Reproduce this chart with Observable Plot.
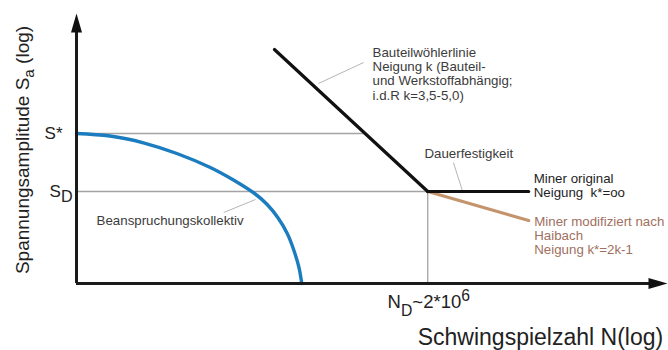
<!DOCTYPE html>
<html>
<head>
<meta charset="utf-8">
<script src="https://cdn.jsdelivr.net/npm/d3@7"></script>
<script src="https://cdn.jsdelivr.net/npm/@observablehq/plot@0.6"></script>
<style>
  html, body { margin: 0; padding: 0; background: #fff; }
</style>
</head>
<body>
<div id="chart"></div>
<script>
// ---- data (x = log N, y = log S_a, schematic units) ----
const xMax = 10.6;          // end of N axis (arrow tip)
const yMax = 2.7;           // end of S axis (arrow tip)
const Sstar = 1.5;          // S*
const SD = 0.92;            // S_D (Dauerfestigkeit)
const ND = 6.3;             // log10(2*10^6)

// Beanspruchungskollektiv (blue)
const kollektivN = [0, 0.6, 1.2, 1.8, 2.39, 2.8, 3.17, 3.42, 3.61, 3.78, 3.90, 3.99, 4.04];
const kollektivS = [1.50, 1.475, 1.407, 1.30, 1.163, 1.04, 0.91, 0.79, 0.66, 0.50, 0.33, 0.16, 0];

// Bauteilwöhlerlinie (black, slope k)
const woehlerN = [3.55, ND];
const woehlerS = [2.34, SD];

// Miner original (k* = oo)
const minerN = [ND, 8.11];
const minerS = [SD, SD];

// Miner modifiziert nach Haibach (k* = 2k-1)
const haibachN = [ND, 8.11];
const haibachS = [SD, 0.63];

// labels
const yTitle = "Spannungsamplitude S_{a} (log)";
const xTitle = "Schwingspielzahl N(log)";
const yTickLabels = ["S*", "S_{D}"];
const xTickLabel = "N_{D}~2*10^{6}";
const woehlerLabel = ["Bauteilwöhlerlinie", "Neigung k (Bauteil-", "und Werkstoffabhängig;", "i.d.R k=3,5-5,0)"];
const dauerLabel = "Dauerfestigkeit";
const minerLabel = ["Miner original", "Neigung \u00a0k*=oo"];
const haibachLabel = ["Miner modifiziert nach", "Haibach", "Neigung k*=2k-1"];
const kollektivLabel = "Beanspruchungskollektiv";

// leader lines (start/end in data units)
const leaders = [
  {n1: 4.34, s1: 2.00, n2: 5.15, s2: 2.21},
  {n1: 6.76, s1: 1.21, n2: 6.92, s2: 0.93},
  {n1: 2.64, s1: 0.71, n2: 3.21, s2: 0.84}
];

// ---- build tables ----
const zip = (ns, ss) => ns.map((n, i) => ({n, s: ss[i]}));
const kollektiv = zip(kollektivN, kollektivS);
const woehler = zip(woehlerN, woehlerS);
const miner = zip(minerN, minerS);
const haibach = zip(haibachN, haibachS);
// S* line ends on the Wöhler line
const slope = (woehlerS[1] - woehlerS[0]) / (woehlerN[1] - woehlerN[0]);
const sstarEnd = woehlerN[0] + (Sstar - woehlerS[0]) / slope;

const arrowHead = {
  draw(ctx) { ctx.moveTo(0, 0); ctx.lineTo(5.5, 19); ctx.lineTo(-5.5, 19); ctx.closePath(); }
};

const font = "Arial, 'Liberation Sans', Helvetica, sans-serif";
const gray = "#a3a3a3";
const txt = "#3b3b3b";
const brownText = "#a07060";

const svg = Plot.plot({
  width: 668,
  height: 350,
  margin: 0,
  x: {domain: [0, xMax], range: [76, 667], axis: null},
  y: {domain: [0, yMax], range: [283, 13], axis: null},
  style: {fontFamily: font, background: "#fff", overflow: "visible"},
  marks: [
    // thin reference lines
    Plot.ruleY([Sstar], {x1: 0, x2: sstarEnd, stroke: gray, strokeWidth: 1.3}),
    Plot.ruleY([SD], {x1: 0, x2: ND, stroke: gray, strokeWidth: 1.3}),
    Plot.ruleX([ND], {y1: 0, y2: SD, stroke: gray, strokeWidth: 1.3}),
    // leader lines
    Plot.link(leaders, {x1: "n1", y1: "s1", x2: "n2", y2: "s2", stroke: "#b5b5b5", strokeWidth: 1}),
    // curves
    Plot.line(kollektiv, {x: "n", y: "s", stroke: "#1b7dbf", strokeWidth: 3.4, curve: "natural"}),
    Plot.line(haibach, {x: "n", y: "s", stroke: "#c4946c", strokeWidth: 3.2}),
    Plot.line(woehler, {x: "n", y: "s", stroke: "#111", strokeWidth: 3.2}),
    Plot.line(miner, {x: "n", y: "s", stroke: "#111", strokeWidth: 3.2}),
    // axes
    Plot.ruleY([0], {x1: 0, x2: xMax - 0.2, stroke: "#1a1a1a", strokeWidth: 3}),
    Plot.ruleX([0], {y1: 0, y2: yMax - 0.12, stroke: "#1a1a1a", strokeWidth: 3}),
    Plot.dot([{n: 0, s: yMax}], {x: "n", y: "s", symbol: arrowHead, r: 5, fill: "#111", stroke: null}),
    Plot.dot([{n: xMax, s: 0}], {x: "n", y: "s", symbol: arrowHead, r: 5, fill: "#111", stroke: null, rotate: 90}),
    // axis tick labels
    Plot.text([yTickLabels[0]], {x: -0.25, y: Sstar, text: d => d, textAnchor: "end", lineAnchor: "middle", fontSize: 17, fill: "#222"}),
    Plot.text([yTickLabels[1]], {x: -0.07, y: SD, text: d => d, textAnchor: "end", lineAnchor: "middle", fontSize: 17, fill: "#222", className: "rich-sd"}),
    Plot.text([xTickLabel], {x: 5.58, y: -0.24, text: d => d, textAnchor: "start", lineAnchor: "bottom", fontSize: 18.5, fill: "#222", className: "rich-nd"}),
    // axis titles
    Plot.text([yTitle], {x: -0.97, y: 1.335, text: d => d, rotate: -90, textAnchor: "middle", lineAnchor: "middle", fontSize: 19, fill: "#222", className: "rich-ya"}),
    Plot.text([xTitle], {x: 6.12, y: -0.61, text: d => d, textAnchor: "start", lineAnchor: "bottom", fontSize: 23, fill: "#222"}),
    // annotations
    Plot.text([woehlerLabel.join("\n")], {x: 5.31, y: 1.84, text: d => d, textAnchor: "start", lineAnchor: "bottom", fontSize: 13.3, lineHeight: 1.06, fill: txt}),
    Plot.text([dauerLabel], {x: 6.24, y: 1.26, text: d => d, textAnchor: "start", lineAnchor: "bottom", fontSize: 13.3, fill: txt}),
    Plot.text([minerLabel.join("\n")], {x: 8.20, y: 0.865, text: d => d, textAnchor: "start", lineAnchor: "bottom", fontSize: 13.3, lineHeight: 1.09, fill: "#1e1e1e"}),
    Plot.text([haibachLabel.join("\n")], {x: 8.21, y: 0.30, text: d => d, textAnchor: "start", lineAnchor: "bottom", fontSize: 13.3, lineHeight: 1.02, fill: brownText}),
    Plot.text([kollektivLabel], {x: 0.36, y: 0.59, text: d => d, textAnchor: "start", lineAnchor: "bottom", fontSize: 13.3, fill: txt})
  ]
});

// sub/superscript rendering: "_{..}" and "^{..}"
function richify(sel, subShift, subScale, supShift, supScale) {
  d3.select(svg).selectAll(sel + " text").each(function() {
    const el = d3.select(this);
    const s = this.textContent;
    const parts = s.split(/(_\{[^}]*\}|\^\{[^}]*\})/).filter(p => p.length);
    el.text(null);
    let off = 0;
    for (const p of parts) {
      let target = 0, str = p, scale = null;
      if (p.startsWith("_{")) { target = subShift; str = p.slice(2, -1); scale = subScale; }
      else if (p.startsWith("^{")) { target = -supShift; str = p.slice(2, -1); scale = supScale; }
      const ts = el.append("tspan").text(str);
      if (target - off !== 0) ts.attr("dy", (target - off) + "px");
      if (scale) ts.attr("font-size", (scale * 100) + "%");
      off = target;
    }
  });
}
richify(".rich-sd", 5, 0.95, 0, 1);
richify(".rich-nd", 8, 0.85, 7, 0.85);
richify(".rich-ya", 5, 0.8, 0, 1);

document.getElementById("chart").appendChild(svg);
</script>
</body>
</html>
